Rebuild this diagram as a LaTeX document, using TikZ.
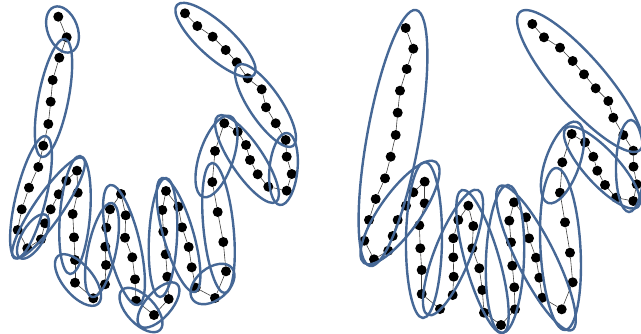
\documentclass[tikz,border=0pt]{standalone}
\usepackage{tikz}
\usetikzlibrary{shapes.geometric, calc}

\definecolor{blobblue}{RGB}{70,104,150}

\begin{document}
\begin{tikzpicture}[
      x=1pt, y=-1pt,
      bead/.style={circle, fill=black, inner sep=0pt, minimum size=10pt},
      bond/.style={draw=black!75, line width=0.6pt},
      blob/.style={ellipse, draw=blobblue, line width=2.4pt, inner sep=0pt, outer sep=0pt}
    ]
    \useasboundingbox (0,0) rectangle (641,333);

    % left chain
    \foreach \x/\y [count=\i] in {58.3/16.7, 66.7/37.3, 59.3/57.7, 52.7/80, 50.7/101.7, 48.3/124,
        43.3/145.7, 38.3/167, 29/187.7, 21.7/209.3, 17.7/230, 27.3/248.3, 41/239.3, 45/223.3,
        50.7/209.3, 58.7/194.3, 66.3/180.7, 77/170.7, 77.7/192.7, 72.7/214, 74/237.3, 75/260,
        75/282.7, 93.3/298.3, 105/284.3, 106/265, 105.3/246.7, 106.3/227.7, 110/209.3, 121/194,
        125.7/215.3, 125/237.7, 132.3/257.3, 135/279.3, 136/300.7, 154/315, 168.7/299, 167.3/276.7,
        165.7/254.3, 163.3/231.7, 162.3/210, 166/191, 178.3/206.7, 182/227.3, 188.7/247,
        191.7/267.3, 195.7/287.7, 215/298, 226/271.3, 223.3/242, 217.7/212, 212.3/182, 215/151,
        224.3/123.3, 237.7/131.7, 246/145, 250/160, 257.7/174.3, 268.3/186.7, 286.7/190.7,
        291.7/174, 286.7/156.7, 285.7/140, 275.7/123.3, 266/107.3, 261.7/89.3, 247.7/78.3,
        236.7/62.3, 225.7/50, 212.7/36.7, 197.3/26, 185/13.3}
      \node[bead] (l\i) at (\x,\y) {};
    \foreach \i [evaluate=\i as \j using int(\i+1)] in {1,...,71}
      \draw[bond] (l\i) -- (l\j);

    % right chain
    \foreach \x/\y [count=\i] in {405.7/28, 413.3/48.7, 406.7/69, 400/90.7, 397.7/112.7, 395.7/135,
        390.7/156.7, 385/178.3, 375.7/199, 369/220, 364.3/240.7, 374/259.3, 388.3/250.7, 392.7/236,
        397.7/220, 406/205.7, 413.3/192.3, 424.7/181.7, 424.7/203.3, 419.3/225.3, 420.3/248.3,
        421.7/270, 421.7/294, 440/309, 452.7/295, 453.7/276.7, 453.3/257.3, 453.3/238.3, 458.3/220,
        468.3/205.7, 473.3/226, 472.3/248.3, 479.3/268.3, 482.3/290, 484/312.7, 501/325, 515/309.3,
        514.3/287.3, 512.3/265.7, 511/242.3, 509.3/220.7, 514/202.3, 526/217.3, 529/238.3,
        536/257.7, 539.3/277.7, 542.3/297.7, 561.7/309.3, 572.7/282.3, 570/252.7, 565/222.3,
        560/192.7, 562.3/162.3, 571.7/134, 585/142.3, 593.3/156.7, 597.3/170.7, 605/185, 616/197.7,
        633.3/201, 636.7/184.3, 633.5/166.7, 633.3/150.7, 623.3/135, 613.3/117.7, 608.3/101,
        595.7/88.3, 584/74.3, 572.7/61, 560/47.7, 544/37.3, 532.3/24}
      \node[bead] (r\i) at (\x,\y) {};
    \foreach \i [evaluate=\i as \j using int(\i+1)] in {1,...,71}
      \draw[bond] (r\i) -- (r\j);

    % blobs: tip to tip, then width
    \foreach \ax/\ay/\bx/\by/\w [count=\k] in {54/7/71/52/30, 65/39/42/157/30, 46/136/16/258/30,
        14/258/83/158/28, 20/258/46/215/22, 80/156/70/274/30, 58/256/98/304/30, 112/203/92/297/28,
        110/185/138/305/32, 122/290/160/330/28, 140/326/177/284/26, 166/178/160/297/28,
        162/178/195/292/30, 193/300/232/268/32, 212/163/225/293/30, 203/197/230/116/34,
        218/116/276/202/32, 287/133/280/205/28, 238/65/293/146/32, 177/5/254/75/34}
      \path let \p1=(\ax,\ay), \p2=(\bx,\by), \n1={atan2(\y2-\y1,\x2-\x1)},
          \n2={veclen(\x2-\x1,\y2-\y1)} in
        node[blob, minimum width=\n2, minimum height=\w, rotate=\n1] (lb\k) at ($(\p1)!0.5!(\p2)$) {};

    \foreach \ax/\ay/\bx/\by/\w [count=\k] in {416/10/370/266/52, 364/263/436/162/40,
        425/162/423/318/36, 428/315/478/190/36, 462/190/503/333/34, 508/185/502/333/38,
        500/186/572/330/38, 556/168/565/330/40, 548/203/577/122/34, 566/128/638/207/34,
        631/120/629/212/28, 520/12/640/150/50}
      \path let \p1=(\ax,\ay), \p2=(\bx,\by), \n1={atan2(\y2-\y1,\x2-\x1)},
          \n2={veclen(\x2-\x1,\y2-\y1)} in
        node[blob, minimum width=\n2, minimum height=\w, rotate=\n1] (rb\k) at ($(\p1)!0.5!(\p2)$) {};
  \end{tikzpicture}
\end{document}
